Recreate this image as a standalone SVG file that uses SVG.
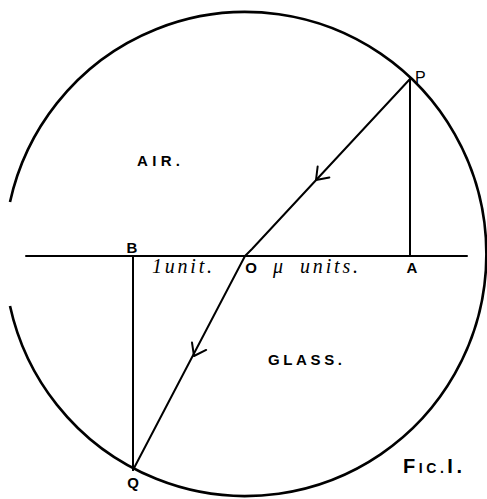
<svg xmlns="http://www.w3.org/2000/svg" width="487" height="499" viewBox="0 0 487 499">
<style>
.ln{stroke:#000;stroke-width:2;fill:none;stroke-linecap:round;stroke-linejoin:round}
.circ{stroke:#000;stroke-width:2.6;fill:none}
.lab{font-family:"Liberation Sans",Arial,sans-serif;font-weight:bold;font-size:15px;fill:#000}
.cap{font-family:"Liberation Sans",Arial,sans-serif;font-weight:bold;font-size:15px;fill:#000}
.it{font-family:"Liberation Serif","Times New Roman",serif;font-style:italic;font-size:20px;fill:#000}
</style>
<defs>
<path id="chev" d="M -11,-8 L 0,0 L -11,8" class="ln"/>
</defs>
<rect width="487" height="499" fill="#fff"/>
<g id="circle">
<path class="circ" d="M 10,202 A 241 242 0 1 1 10,306"/>
</g>
<g id="connectors">
<line class="ln" x1="26" y1="256" x2="467" y2="256"/>
<line class="ln" x1="410" y1="79" x2="410" y2="256"/>
<line class="ln" x1="133" y1="256" x2="133" y2="470"/>
<polyline class="ln" points="410,79 252,249 245,256"/>
<line class="ln" x1="245" y1="256" x2="133" y2="470"/>
<use href="#chev" transform="translate(316,180) rotate(133)"/>
<use href="#chev" transform="translate(194,356) rotate(117.6)"/>
</g>
<g id="node-P"><text class="lab" style="font-weight:normal;font-size:16px" x="415" y="83">P</text></g>
<g id="node-A"><text class="lab" x="412" y="273" text-anchor="middle">A</text></g>
<g id="node-B"><text class="lab" x="132" y="253" text-anchor="middle">B</text></g>
<g id="node-O"><text class="lab" x="251" y="273" text-anchor="middle">O</text></g>
<g id="node-Q"><text class="lab" x="133" y="488" text-anchor="middle">Q</text></g>
<g id="label-air"><text class="cap" x="137" y="166" textLength="43" lengthAdjust="spacing">AIR.</text></g>
<g id="label-glass"><text class="cap" x="268" y="365" textLength="74" lengthAdjust="spacing">GLASS.</text></g>
<g id="label-unit"><text class="it" x="152" y="273" textLength="60" lengthAdjust="spacing">1unit.</text></g>
<g id="label-mu"><text class="it" x="273" y="273">μ</text><text class="it" x="300" y="273" textLength="58" lengthAdjust="spacing">units.</text></g>
<g id="label-fig"><text class="lab" x="403" y="473" style="font-size:20px" textLength="59" lengthAdjust="spacing">F<tspan style="font-size:14px">IC.</tspan>I.</text></g>
</svg>
